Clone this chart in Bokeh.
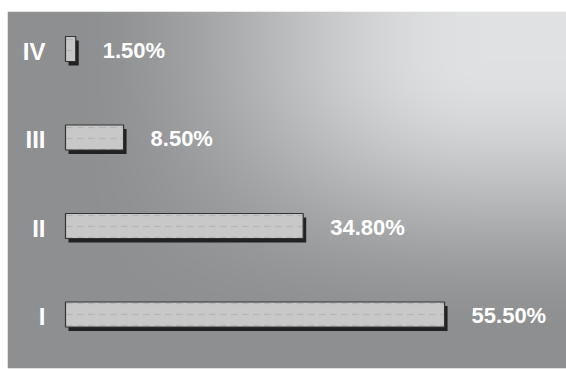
import numpy as np
from bokeh.plotting import figure
from bokeh.models import Range1d, ColumnDataSource
from bokeh.core.properties import value
from bokeh.embed import file_html
from bokeh.resources import INLINE

# ---- data ----
categories = ["I", "II", "III", "IV"]
shares = [55.5, 34.8, 8.5, 1.5]
share_labels = ["55.50%", "34.80%", "8.50%", "1.50%"]

# ---- layout ----
W, H = 566, 370
LEFT, TOP, BOTTOM = 7, 11, 2
FW, FH = W - LEFT, H - TOP - BOTTOM
PXU = 6.83          # pixels per percent unit
ROW = 88.5          # pixels per category row
X0 = -58 / PXU
x_range = Range1d(X0, X0 + FW / PXU)
Y0 = -54 / ROW
y_range = Range1d(Y0, Y0 + FH / ROW)

ypos = np.arange(len(categories), dtype=float)
src = ColumnDataSource(dict(
    cat=categories, val=shares, lab=share_labels, y=ypos,
    start=np.zeros(len(shares)),
    sh_y=ypos - 4 / ROW,
    sh_l=np.zeros(len(shares)) + 3 / PXU,
    sh_r=np.array(shares) + 3 / PXU,
))

p = figure(width=W, height=H, x_range=x_range, y_range=y_range,
           output_backend="svg", toolbar_location=None,
           min_border_left=LEFT, min_border_right=0, min_border_bottom=BOTTOM,
           min_border_top=TOP, border_fill_color="white")
p.axis.visible = False
p.grid.visible = False
p.outline_line_color = None

# ---- background gradient (style) ----
def smooth(t):
    t = np.clip(t, 0, 1)
    return 3 * t ** 2 - 2 * t ** 3

ii, jj = np.meshgrid(np.arange(FW), np.arange(FH))
px = LEFT + ii
py = TOP + jj
sx = smooth((px - 60) / 420.0)
gy = 1 - smooth((py - 60) / 280.0)
v = 142 + 82 * sx * gy
img = np.zeros((FH, FW, 4), dtype=np.uint8)
img[..., 0] = np.clip(v, 0, 255)
img[..., 1] = np.clip(v + 1, 0, 255)
img[..., 2] = np.clip(v + 3, 0, 255)
img[..., 3] = 255
img = img[::-1]
p.image_rgba(image=[img.view(np.uint32).reshape(FH, FW)],
             x=x_range.start, y=y_range.start,
             dw=x_range.end - x_range.start, dh=y_range.end - y_range.start)

# ---- bars ----
BH = 25 / ROW
p.hbar(y="sh_y", left="sh_l", right="sh_r", height=BH, source=src,
       fill_color="#222222", line_color=None)
p.hbar(y="y", left="start", right="val", height=BH, source=src,
       fill_color="#c8c8c8", line_color="#333333", line_width=1.2,
       hatch_pattern="horizontal_dash", hatch_color="#a0a0a0",
       hatch_alpha=0.45, hatch_scale=11, hatch_weight=1.4)

# ---- labels ----
p.text(x="start", y="y", text="cat", source=src, x_offset=-20, y_offset=2,
       text_align="right", text_baseline="middle", text_color="white",
       text_font=value("Liberation Sans"), text_font_style="bold",
       text_font_size="24px")
p.text(x="val", y="y", text="lab", source=src, x_offset=27, y_offset=1,
       text_align="left", text_baseline="middle", text_color="white",
       text_font=value("Liberation Sans"), text_font_style="bold",
       text_font_size="22px")

open("out.html", "w").write(file_html(p, INLINE))
